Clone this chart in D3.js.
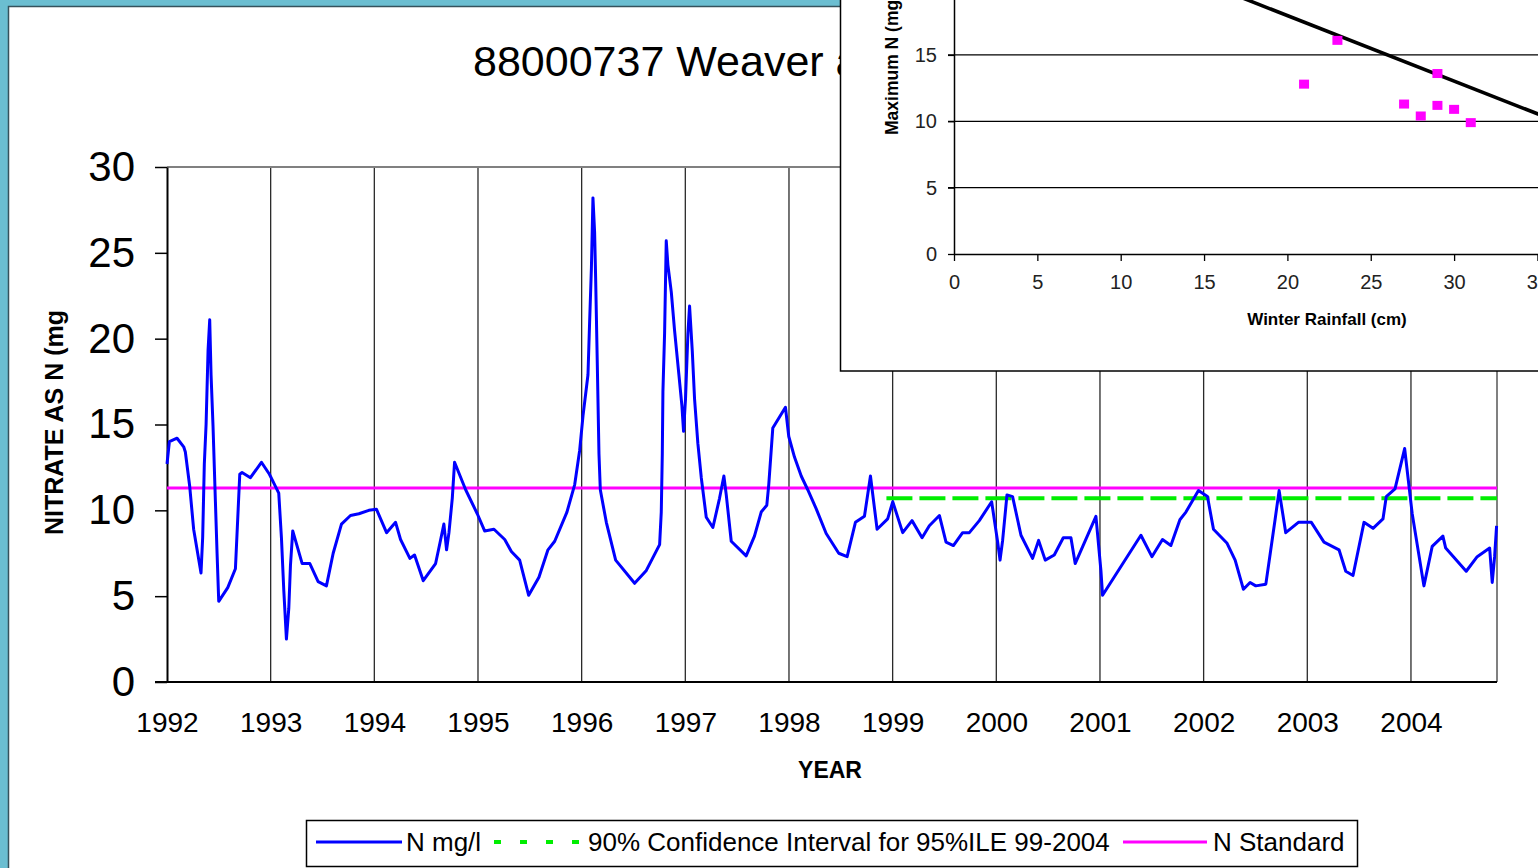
<!DOCTYPE html>
<html>
<head>
<meta charset="utf-8">
<script src="https://cdn.jsdelivr.net/npm/d3@7"></script>
<style>
  body { margin: 0; background: #fff; }
  svg { display: block; font-family: "Liberation Sans", Arial, sans-serif; }
</style>
</head>
<body>
<div id="graf"></div>
<script>
// Datos del gráfico principal: [año decimal, N mg/l]
const nitrateSeries = [
  [1992.000, 12.7], [1992.023, 14.0], [1992.097, 14.2], [1992.161, 13.7], [1992.177, 13.4],
  [1992.219, 11.4], [1992.257, 8.9], [1992.328, 6.35], [1992.344, 8.4], [1992.360, 12.7],
  [1992.377, 15.0], [1992.396, 19.3], [1992.412, 21.1], [1992.425, 17.9], [1992.444, 14.9],
  [1992.467, 10.5], [1992.483, 7.5], [1992.499, 4.7], [1992.586, 5.5], [1992.660, 6.6],
  [1992.702, 12.1], [1992.724, 12.2], [1992.805, 11.9], [1992.911, 12.8], [1992.988, 12.1],
  [1993.046, 11.4], [1993.078, 11.0], [1993.104, 8.4], [1993.127, 5.3], [1993.152, 2.5],
  [1993.175, 4.3], [1993.191, 6.8], [1993.213, 8.8], [1993.304, 6.9], [1993.378, 6.9],
  [1993.458, 5.85], [1993.538, 5.6], [1993.603, 7.5], [1993.683, 9.2], [1993.770, 9.7],
  [1993.851, 9.8], [1993.947, 10.0], [1994.021, 10.06], [1994.118, 8.7], [1994.205, 9.3],
  [1994.253, 8.3], [1994.343, 7.2], [1994.388, 7.4], [1994.472, 5.9], [1994.591, 6.9],
  [1994.633, 8.1], [1994.671, 9.2], [1994.697, 7.7], [1994.720, 8.7], [1994.752, 10.7],
  [1994.774, 12.8], [1994.881, 11.2], [1994.993, 9.8], [1995.064, 8.8], [1995.154, 8.9],
  [1995.258, 8.3], [1995.322, 7.6], [1995.402, 7.1], [1995.489, 5.05], [1995.588, 6.1],
  [1995.675, 7.7], [1995.740, 8.2], [1995.858, 9.9], [1995.933, 11.5], [1995.981, 13.5],
  [1996.013, 15.5], [1996.061, 17.9], [1996.077, 21.0], [1996.094, 24.1], [1996.109, 28.2],
  [1996.125, 26.2], [1996.135, 23.5], [1996.151, 18.5], [1996.167, 13.3], [1996.180, 11.2],
  [1996.238, 9.3], [1996.328, 7.1], [1996.511, 5.75], [1996.624, 6.5], [1996.752, 8.0],
  [1996.768, 9.9], [1996.778, 13.3], [1996.784, 16.9], [1996.800, 20.3], [1996.816, 25.7],
  [1996.832, 24.3], [1996.865, 22.7], [1996.896, 20.5], [1996.938, 17.9], [1996.967, 16.1],
  [1996.983, 14.6], [1997.002, 16.5], [1997.025, 20.3], [1997.041, 21.9], [1997.067, 19.3],
  [1997.089, 16.5], [1997.121, 13.9], [1997.154, 11.9], [1997.202, 9.6], [1997.266, 9.0],
  [1997.330, 10.7], [1997.372, 12.0], [1997.395, 10.9], [1997.443, 8.2], [1997.587, 7.35],
  [1997.667, 8.5], [1997.732, 9.9], [1997.786, 10.3], [1997.805, 11.5], [1997.844, 14.8],
  [1997.966, 16.0], [1997.998, 14.3], [1998.053, 13.1], [1998.118, 12.0], [1998.181, 11.2],
  [1998.262, 10.1], [1998.359, 8.65], [1998.480, 7.5], [1998.561, 7.3], [1998.641, 9.3],
  [1998.728, 9.65], [1998.786, 12.0], [1998.850, 8.9], [1998.952, 9.5], [1999.001, 10.5],
  [1999.097, 8.7], [1999.187, 9.4], [1999.284, 8.4], [1999.354, 9.1], [1999.451, 9.7],
  [1999.515, 8.15], [1999.586, 7.95], [1999.675, 8.7], [1999.740, 8.7], [1999.836, 9.4],
  [1999.955, 10.5], [2000.013, 8.15], [2000.036, 7.1], [2000.061, 8.25], [2000.103, 10.9],
  [2000.157, 10.8], [2000.238, 8.55], [2000.350, 7.2], [2000.408, 8.25], [2000.472, 7.1],
  [2000.559, 7.4], [2000.646, 8.4], [2000.720, 8.4], [2000.761, 6.9], [2000.961, 9.65],
  [2001.009, 6.5], [2001.025, 5.05], [2001.395, 8.55], [2001.501, 7.3], [2001.603, 8.3],
  [2001.684, 7.95], [2001.771, 9.45], [2001.829, 9.9], [2001.950, 11.15], [2002.037, 10.8],
  [2002.095, 8.9], [2002.224, 8.1], [2002.304, 7.1], [2002.384, 5.4], [2002.448, 5.8],
  [2002.503, 5.6], [2002.600, 5.7], [2002.689, 9.45], [2002.728, 11.15], [2002.792, 8.7],
  [2002.914, 9.3], [2003.039, 9.3], [2003.161, 8.15], [2003.306, 7.7], [2003.371, 6.45],
  [2003.441, 6.2], [2003.547, 9.3], [2003.634, 8.95], [2003.730, 9.5], [2003.762, 10.8],
  [2003.846, 11.25], [2003.939, 13.6], [2004.012, 9.8], [2004.125, 5.6], [2004.205, 7.9],
  [2004.308, 8.5], [2004.335, 7.8], [2004.533, 6.45], [2004.639, 7.3], [2004.759, 7.8],
  [2004.784, 5.8], [2004.807, 7.3], [2004.826, 9.1]
]
const confidenceSeries = [[1998.94, 10.7], [2004.83, 10.7]]
const standardSeries = [[1992.0, 11.3], [2004.83, 11.3]]
const yearTicks = d3.range(1992, 2005)
const nitrateTicks = [0, 5, 10, 15, 20, 25, 30]

// Datos del gráfico insertado
const rainfall = [21, 23, 27, 28, 29, 29, 30, 31]
const maxNitrate = [12.8, 16.1, 11.3, 10.4, 13.6, 11.2, 10.9, 9.9]
const trendLine = [[10, 22.9], [40, 8.1]]
const rainTicks = [0, 5, 10, 15, 20, 25, 30, 35]
const maxNTicks = [0, 5, 10, 15]
const maxNGrid = [5, 10, 15, 20, 25]

const W = 1538, H = 868
const svg = d3.select("#graf").append("svg").attr("width", W).attr("height", H)

// Marco
svg.append("rect").attr("width", W).attr("height", H).attr("fill", "#6bbed1")
svg.append("rect").attr("x", 8.5).attr("y", 6.5).attr("width", W).attr("height", H)
  .attr("fill", "#fff").attr("stroke", "#35525c").attr("stroke-width", 1.5)

// Escaladores
const x = d3.scaleLinear().domain([1992, 2004.83]).range([167, 1497])
const y = d3.scaleLinear().domain([0, 30]).range([682, 167])

svg.append("text").attr("x", 473).attr("y", 76).attr("font-size", 43)
  .attr("fill", "#000").text("88000737 Weaver a")

const chart = svg.append("g")

// Rejilla vertical
chart.append("g").selectAll("line").data(yearTicks.slice(1)).join("line")
  .attr("x1", (d) => x(d)).attr("x2", (d) => x(d))
  .attr("y1", y(30)).attr("y2", y(0))
  .attr("stroke", "#2a2a2a").attr("stroke-width", 1.3)

// Bordes del área
chart.append("line").attr("x1", x(1992)).attr("x2", x(2004.83))
  .attr("y1", y(30)).attr("y2", y(30)).attr("stroke", "#808080").attr("stroke-width", 2)
chart.append("line").attr("x1", x(2004.83)).attr("x2", x(2004.83))
  .attr("y1", y(30)).attr("y2", y(0)).attr("stroke", "#808080").attr("stroke-width", 2)

// Ejes
const yAxis = d3.axisLeft(y).tickValues(nitrateTicks).tickSize(12).tickSizeOuter(0).tickPadding(20)
const yAxisGroup = chart.append("g").attr("transform", `translate(${x(1992)},0)`).call(yAxis)
yAxisGroup.select(".domain").attr("stroke", "#000").attr("stroke-width", 2)
yAxisGroup.selectAll(".tick line").attr("stroke", "#000").attr("stroke-width", 1.5)
yAxisGroup.selectAll(".tick text").attr("font-size", 42).attr("font-family", "Liberation Sans, Arial, sans-serif").attr("fill", "#000")

const xAxis = d3.axisBottom(x).tickValues(yearTicks).tickSize(0).tickPadding(30).tickFormat(d3.format("d"))
const xAxisGroup = chart.append("g").attr("transform", `translate(0,${y(0)})`).call(xAxis)
xAxisGroup.select(".domain").remove()
xAxisGroup.selectAll(".tick text").attr("font-size", 28).attr("font-family", "Liberation Sans, Arial, sans-serif").attr("fill", "#000")
chart.append("line").attr("x1", 155).attr("x2", x(2004.83)).attr("y1", y(0)).attr("y2", y(0))
  .attr("stroke", "#000").attr("stroke-width", 2)

chart.append("text").attr("x", 830).attr("y", 778).attr("text-anchor", "middle")
  .attr("font-size", 23).attr("font-weight", "bold").text("YEAR")
chart.append("text").attr("transform", "translate(63,535) rotate(-90)")
  .attr("font-size", 25).attr("font-weight", "bold").text("NITRATE AS N (mg")

// Series
const line = d3.line().x((d) => x(d[0])).y((d) => y(d[1]))
chart.append("path").datum(standardSeries).attr("d", line)
  .attr("fill", "none").attr("stroke", "#ff00ff").attr("stroke-width", 2.8)
chart.append("path").datum(confidenceSeries).attr("d", line)
  .attr("fill", "none").attr("stroke", "#00ee00").attr("stroke-width", 4)
  .attr("stroke-dasharray", "26,7")
chart.append("path").datum(nitrateSeries).attr("d", line)
  .attr("fill", "none").attr("stroke", "#0000ff").attr("stroke-width", 3)
  .attr("stroke-linejoin", "round")

// Gráfico insertado
const inset = svg.append("g")
inset.append("rect").attr("x", 840.5).attr("y", -10).attr("width", 720).attr("height", 381)
  .attr("fill", "#fff").attr("stroke", "#000").attr("stroke-width", 1.5)

const ix = d3.scaleLinear().domain([0, 40]).range([954, 954 + 40 * 16.67])
const iy = d3.scaleLinear().domain([0, 25]).range([254, 254 - 25 * 13.27])

inset.append("defs").append("clipPath").attr("id", "clip")
  .append("rect").attr("x", ix(0)).attr("y", iy(25)).attr("width", ix(40) - ix(0)).attr("height", iy(0) - iy(25))

inset.append("g").selectAll("line").data(maxNGrid).join("line")
  .attr("x1", ix(0) - 6).attr("x2", ix(40)).attr("y1", (d) => iy(d)).attr("y2", (d) => iy(d))
  .attr("stroke", "#000").attr("stroke-width", 1.3)

const iyAxis = d3.axisLeft(iy).tickValues(maxNTicks).tickSize(6).tickSizeOuter(0).tickPadding(11)
const iyGroup = inset.append("g").attr("transform", `translate(${ix(0)},0)`).call(iyAxis)
iyGroup.select(".domain").attr("stroke", "#000").attr("stroke-width", 1.5)
iyGroup.selectAll(".tick line").attr("stroke", "#000").attr("stroke-width", 1.3)
iyGroup.selectAll(".tick text").attr("font-size", 20).attr("font-family", "Liberation Sans, Arial, sans-serif").attr("fill", "#222")

const ixAxis = d3.axisBottom(ix).tickValues(rainTicks).tickSize(7).tickSizeOuter(0).tickPadding(14)
const ixGroup = inset.append("g").attr("transform", `translate(0,${iy(0)})`).call(ixAxis)
ixGroup.select(".domain").attr("stroke", "#000").attr("stroke-width", 1.5)
ixGroup.selectAll(".tick line").attr("stroke", "#000").attr("stroke-width", 1.3)
ixGroup.selectAll(".tick text").attr("font-size", 20).attr("font-family", "Liberation Sans, Arial, sans-serif").attr("fill", "#222")

inset.append("text").attr("x", 1327).attr("y", 325).attr("text-anchor", "middle")
  .attr("font-size", 17).attr("font-weight", "bold").text("Winter Rainfall (cm)")
inset.append("text").attr("transform", "translate(898,135) rotate(-90)")
  .attr("font-size", 17.5).attr("font-weight", "bold").text("Maximum N (mg")

inset.append("path").datum(trendLine).attr("clip-path", "url(#clip)")
  .attr("d", d3.line().x((d) => ix(d[0])).y((d) => iy(d[1])))
  .attr("stroke", "#000").attr("stroke-width", 3.5).attr("fill", "none")

inset.append("g").selectAll("rect").data(rainfall).join("rect")
  .attr("x", (d) => ix(d) - 5).attr("y", (d, i) => iy(maxNitrate[i]) - 4.5)
  .attr("width", 10).attr("height", 9).attr("fill", "#ff00ff")

// Leyenda
const legend = svg.append("g")
legend.append("rect").attr("x", 306.5).attr("y", 820.5).attr("width", 1051).attr("height", 46)
  .attr("fill", "#fff").attr("stroke", "#000").attr("stroke-width", 1.5)
const legendItems = [
  { label: "N mg/l", color: "#0000ff", dash: null, x0: 316, x1: 402, tx: 406, w: 3 },
  { label: "90% Confidence Interval for 95%ILE 99-2004", color: "#00ee00", dash: "7,19", x0: 494, x1: 581, tx: 588, w: 4 },
  { label: "N Standard", color: "#ff00ff", dash: null, x0: 1123, x1: 1207, tx: 1213, w: 2.8 }
]
legendItems.forEach((it) => {
  legend.append("line").attr("x1", it.x0).attr("x2", it.x1).attr("y1", 842).attr("y2", 842)
    .attr("stroke", it.color).attr("stroke-width", it.w).attr("stroke-dasharray", it.dash)
  legend.append("text").attr("x", it.tx).attr("y", 851).attr("font-size", 26).text(it.label)
})
</script>
</body>
</html>
